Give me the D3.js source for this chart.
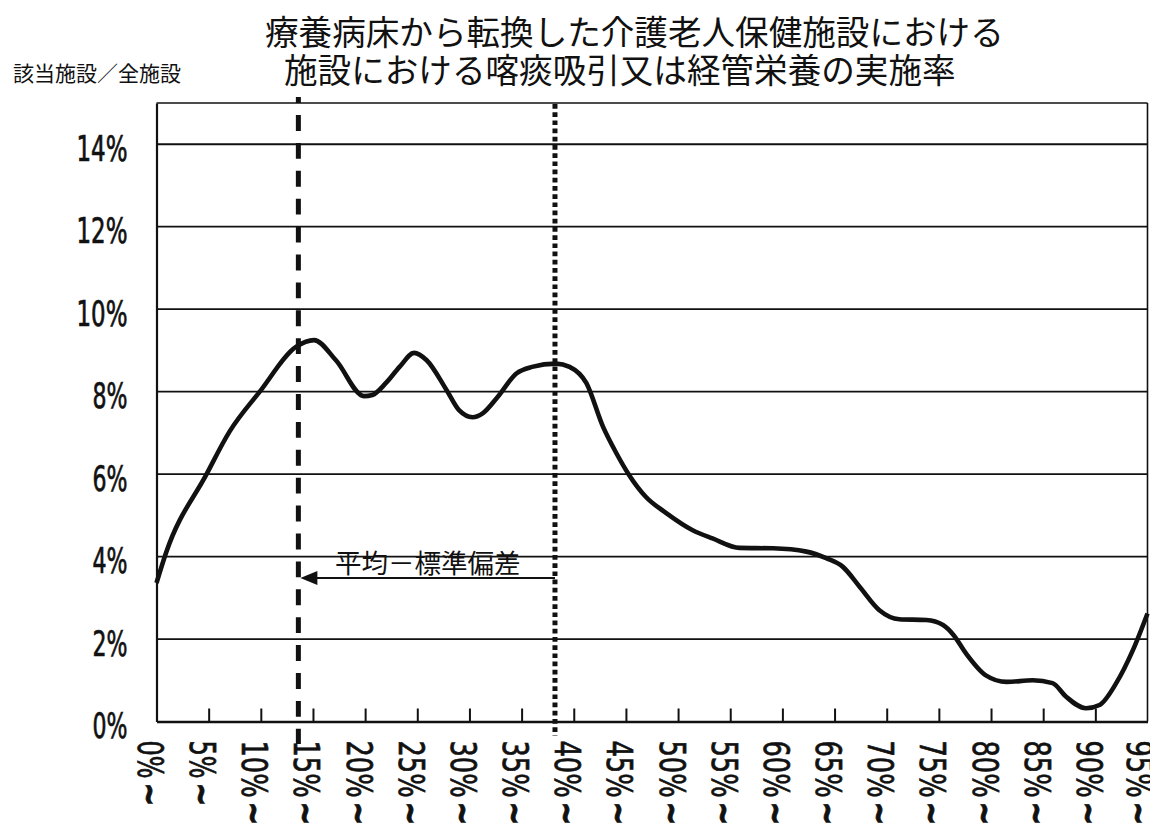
<!DOCTYPE html>
<html><head><meta charset="utf-8">
<script src="https://cdn.jsdelivr.net/npm/d3@7"></script>
<style>body{margin:0;background:#fff} svg{display:block}</style>
</head><body>
<svg id="chart" width="1150" height="829"></svg>
<script>
// ---------- data ----------
const titleLines = ["療養病床から転換した介護老人保健施設における", "施設における喀痰吸引又は経管栄養の実施率"];
const yAxisTitle = "該当施設／全施設";
const xCategories = [0, 5, 10, 15, 20, 25, 30, 35, 40, 45, 50, 55, 60, 65, 70, 75, 80, 85, 90, 95];
const xTickLabels = ["0%", "5%", "10%", "15%", "20%", "25%", "30%", "35%", "40%", "45%", "50%", "55%", "60%", "65%", "70%", "75%", "80%", "85%", "90%", "95%"];
const xTickSuffix = "~";
const yTicks = [0, 2, 4, 6, 8, 10, 12, 14];
const yTickLabels = ["0%", "2%", "4%", "6%", "8%", "10%", "12%", "14%"];
const rateX = [0, 0.9, 4.8, 7.0, 9.9, 13.4, 15.1, 17.2, 19.9, 20.7, 22.0, 23.3, 24.7, 25.9, 27.8, 29.0, 30.3, 31.3, 32.7, 34.5, 36.0, 38.3, 39.6, 41.2, 42.8, 44.1, 45.3, 46.9, 48.9, 51.4, 53.3, 55.9, 59.1, 62.3, 64.2, 65.8, 67.4, 69.3, 71.2, 73.8, 75.4, 76.4, 77.6, 79.5, 81.5, 84.0, 85.9, 87.2, 89.1, 90.4, 92.0, 93.6, 95.0];
const rateY = [3.36, 4.08, 6.0, 7.03, 8.0, 9.09, 9.25, 8.76, 7.89, 7.92, 8.21, 8.6, 8.94, 8.76, 8.04, 7.55, 7.38, 7.48, 7.87, 8.44, 8.6, 8.68, 8.6, 8.21, 7.15, 6.5, 5.98, 5.45, 5.05, 4.64, 4.44, 4.21, 4.2, 4.12, 3.96, 3.75, 3.27, 2.7, 2.48, 2.46, 2.34, 2.1, 1.65, 1.12, 0.96, 1.0, 0.93, 0.6, 0.32, 0.4, 0.93, 1.73, 2.62];
const meanMinusSD = 13.6;
const meanValue = 38.2;
const annotationText = "平均－標準偏差";

// ---------- layout ----------
const svg = d3.select("#chart");
const L = 156.5, R = 1147.5, T = 103, B = 721.5;
const x = d3.scaleLinear().domain([0, 95]).range([L, R]);
const y = d3.scaleLinear().domain([0, 15]).range([B, T]);
const ink = "#111";
const cjk = "'Noto Sans CJK JP', 'Noto Sans CJK SC', sans-serif";
const narrow = "'Liberation Sans Narrow', 'DejaVu Sans Condensed', 'DejaVu Sans', sans-serif";

// titles (one text block, two lines)
const title = svg.append("text").attr("font-family", cjk).attr("font-size", 33.6).attr("fill", ink);
title.append("tspan").attr("x", 265).attr("y", 45).text(titleLines[0]);
title.append("tspan").attr("x", 284).attr("y", 83).text(titleLines[1]);
svg.append("text").attr("x", 13).attr("y", 81).attr("font-family", cjk).attr("font-size", 21)
  .attr("fill", ink).text(yAxisTitle);

// horizontal grid lines
svg.append("g").selectAll("line").data(yTicks.filter(d => d > 0)).join("line")
  .attr("x1", L).attr("x2", R).attr("y1", d => y(d)).attr("y2", d => y(d))
  .attr("stroke", ink).attr("stroke-width", 1.8);

// frame
svg.append("line").attr("x1", L).attr("x2", R).attr("y1", y(15)).attr("y2", y(15)).attr("stroke", ink).attr("stroke-width", 1.6);
svg.append("line").attr("x1", R).attr("x2", R).attr("y1", T).attr("y2", B).attr("stroke", ink).attr("stroke-width", 1.6);

// axes via d3
const yAxis = d3.axisLeft(y).tickValues(yTicks).tickSize(0).tickFormat((d, i) => yTickLabels[i]);
const gy = svg.append("g").attr("transform", `translate(${L},0)`).call(yAxis);
gy.select(".domain").attr("stroke", ink).attr("stroke-width", 2.2);
gy.selectAll(".tick text").remove();
gy.selectAll(".tick").append("text")
  .attr("x", -29).attr("y", 4)
  .attr("text-anchor", "end").attr("dominant-baseline", "central")
  .attr("font-family", narrow).attr("font-size", 35).attr("fill", ink)
  .attr("stroke", ink).attr("stroke-width", 0.7)
  .attr("textLength", (d, i) => 16 * (yTickLabels[i].length - 1) + 19)
  .attr("lengthAdjust", "spacingAndGlyphs")
  .text((d, i) => yTickLabels[i]);

const xAxis = d3.axisBottom(x).tickValues(xCategories).tickSize(0).tickFormat("");
const gx = svg.append("g").attr("transform", `translate(0,${B})`).call(xAxis);
gx.select(".domain").attr("stroke", ink).attr("stroke-width", 2.6);
gx.selectAll(".tick line").remove();
gx.selectAll(".tick").filter(d => d > 0 && d < 95).append("line")
  .attr("y1", 0).attr("y2", -13).attr("stroke", ink).attr("stroke-width", 2);
gx.selectAll(".tick").each(function (d, i) {
  const g = d3.select(this);
  const len = 19 * xTickLabels[i].length;
  const dx = d === 95 ? -9 : -6.5;
  g.append("text")
    .attr("transform", `translate(${dx},19) rotate(90)`)
    .attr("text-anchor", "start").attr("dominant-baseline", "central")
    .attr("font-family", narrow).attr("font-size", 36).attr("fill", ink)
    .attr("stroke", ink).attr("stroke-width", 0.7)
    .attr("textLength", len).attr("lengthAdjust", "spacingAndGlyphs")
    .text(xTickLabels[i]);
  g.append("text")
    .attr("transform", `translate(${dx},${19 + len + 4}) rotate(90)`)
    .attr("text-anchor", "start").attr("dominant-baseline", "central")
    .attr("font-family", narrow).attr("font-weight", "bold").attr("font-size", 36).attr("fill", ink)
    .attr("stroke", ink).attr("stroke-width", 0.8)
    .attr("textLength", 24).attr("lengthAdjust", "spacingAndGlyphs")
    .text(xTickSuffix);
});

// curve
const line = d3.line().x((d, i) => x(rateX[i])).y(d => y(d)).curve(d3.curveMonotoneX);
svg.append("path").attr("d", line(rateY)).attr("fill", "none")
  .attr("stroke", ink).attr("stroke-width", 4.6).attr("stroke-linejoin", "round");

// reference lines
svg.append("line").attr("x1", x(meanMinusSD)).attr("x2", x(meanMinusSD)).attr("y1", 97).attr("y2", 744)
  .attr("stroke", ink).attr("stroke-width", 5).attr("stroke-dasharray", "15.9,12").attr("stroke-dashoffset", 9.9);
svg.append("line").attr("x1", x(meanValue)).attr("x2", x(meanValue)).attr("y1", 104).attr("y2", 736)
  .attr("stroke", ink).attr("stroke-width", 5).attr("stroke-dasharray", "4.7,3.5");

// annotation arrow
const ay = 578;
svg.append("line").attr("x1", x(meanValue)).attr("x2", x(meanMinusSD) + 14).attr("y1", ay).attr("y2", ay)
  .attr("stroke", ink).attr("stroke-width", 2);
const ax0 = x(meanMinusSD) + 2;
svg.append("path").attr("d", `M${ax0},${ay} L${ax0 + 17},${ay - 7} L${ax0 + 17},${ay + 7} Z`).attr("fill", ink);
svg.append("text").attr("x", 335).attr("y", 573).attr("font-family", cjk).attr("font-size", 26.5)
  .attr("fill", ink).text(annotationText);
</script>
</body></html>
